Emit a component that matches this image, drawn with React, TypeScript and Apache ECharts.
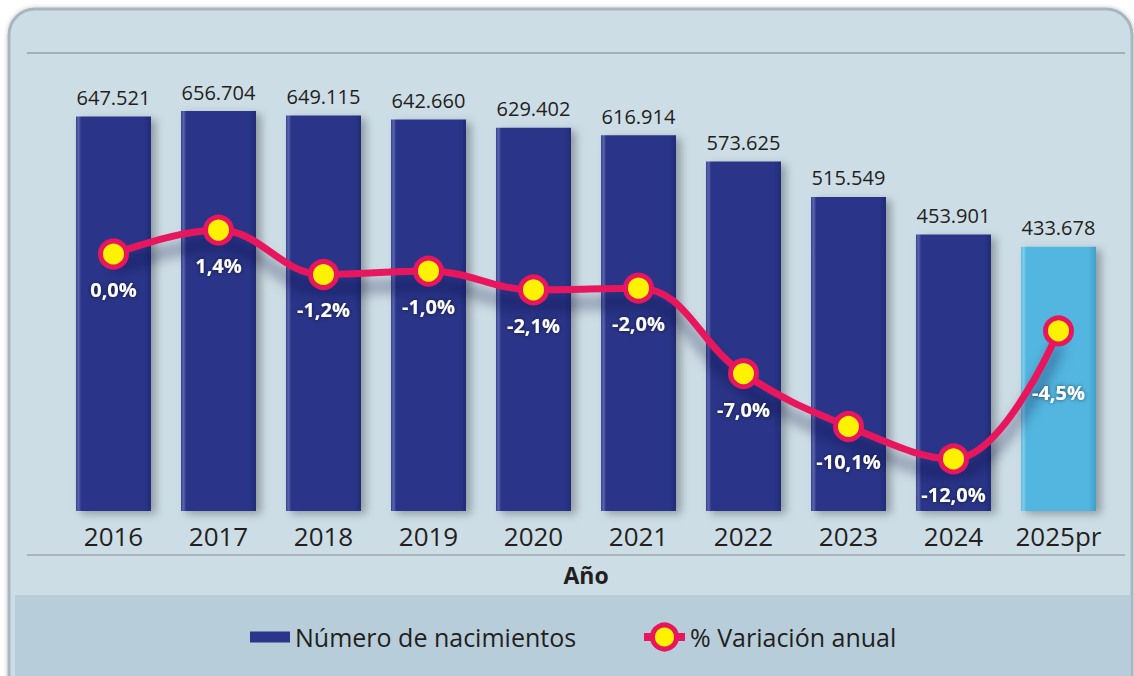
import React, { useEffect, useRef } from "react";
import * as echarts from "echarts";

const categories = ["2016", "2017", "2018", "2019", "2020", "2021", "2022", "2023", "2024", "2025pr"];
const births = [647521, 656704, 649115, 642660, 629402, 616914, 573625, 515549, 453901, 433678];
const variation = [0.0, 1.4, -1.2, -1.0, -2.1, -2.0, -7.0, -10.1, -12.0, -4.5];
const barName = "Número de nacimientos";
const lineName = "% Variación anual";
const axisName = "Año";

const FONT = "'Open Sans', 'Noto Sans', sans-serif";

const fmtThousands = (v: number) => String(v).replace(/\B(?=(\d{3})+(?!\d))/g, ".");
const fmtPct = (v: number) => v.toFixed(1).replace(".", ",") + "%";

const darkBar = new echarts.graphic.LinearGradient(0, 0, 1, 0, [
  { offset: 0, color: "#323e92" },
  { offset: 0.03, color: "#5c66ab" },
  { offset: 0.07, color: "#2a3689" },
  { offset: 0.9, color: "#2a3689" },
  { offset: 1, color: "#222c78" },
]);
const lightBar = new echarts.graphic.LinearGradient(0, 0, 1, 0, [
  { offset: 0, color: "#5ab9e2" },
  { offset: 0.03, color: "#82cdea" },
  { offset: 0.07, color: "#53b6e0" },
  { offset: 0.9, color: "#53b6e0" },
  { offset: 1, color: "#3f9fc8" },
]);

export default function App() {
  const ref = useRef<HTMLDivElement>(null);
  useEffect(() => {
    if (!ref.current) return;
    const chart = echarts.init(ref.current, null, { renderer: "svg" });
    const option: any = {
      animation: false,
      backgroundColor: "#ffffff",
      textStyle: { fontFamily: FONT },
      graphic: [
        {
          type: "rect",
          z: -10,
          silent: true,
          shape: { x: 9, y: 9, width: 1123, height: 700, r: 26 },
          style: {
            fill: "#cddde6",
            stroke: "#a7b6bf",
            lineWidth: 3,
            shadowColor: "rgba(0,0,0,0.25)",
            shadowBlur: 4,
          },
        },
        {
          type: "rect",
          z: -9,
          silent: true,
          shape: { x: 15, y: 595, width: 1116, height: 90 },
          style: { fill: "#b8cdda" },
        },
        {
          type: "line",
          z: -8,
          silent: true,
          shape: { x1: 27, y1: 53, x2: 1125, y2: 53 },
          style: { stroke: "#a2b1ba", lineWidth: 2 },
        },
        {
          type: "line",
          z: -8,
          silent: true,
          shape: { x1: 27, y1: 555, x2: 1125, y2: 555 },
          style: { stroke: "#a9b4bb", lineWidth: 2 },
        },
      ],
      grid: { left: 61, right: 23, top: 52, height: 459, containLabel: false },
      legend: [
        {
          data: [barName],
          left: 250,
          top: 622,
          icon: "rect",
          itemWidth: 40,
          itemHeight: 11,
          itemGap: 6,
          padding: 0,
          textStyle: { fontSize: 25, color: "#231f20", fontFamily: FONT, lineHeight: 30 },
        },
        {
          data: [
            {
              name: lineName,
              itemStyle: { color: "#fff200", borderColor: "#e8175d", borderWidth: 5 },
              lineStyle: { color: "#e8175d", width: 8 },
            },
          ],
          left: 640,
          top: 622,
          itemWidth: 41,
          itemHeight: 30,
          itemGap: 6,
          padding: 0,
          textStyle: { fontSize: 25, color: "#231f20", fontFamily: FONT, lineHeight: 30 },
        },
      ],
      xAxis: {
        type: "category",
        data: categories,
        axisLine: { show: false },
        axisTick: { show: false },
        axisLabel: { interval: 0, fontSize: 26, color: "#231f20", margin: 12, fontFamily: FONT },
        name: axisName,
        nameLocation: "middle",
        nameGap: 52,
        nameTextStyle: { fontSize: 23, fontWeight: "bold", color: "#231f20", fontFamily: FONT },
      },
      yAxis: [
        { type: "value", min: 0, max: 753568, show: false, splitLine: { show: false } },
        { type: "value", min: -15.05, max: 11.83, show: false, splitLine: { show: false } },
      ],
      series: [
        {
          name: barName,
          type: "bar",
          barWidth: 75,
          data: births.map((v, i) => ({
            value: v,
            itemStyle: { color: i === births.length - 1 ? lightBar : darkBar },
          })),
          itemStyle: {
            color: "#2a3689",
            shadowColor: "rgba(0,0,0,0.3)",
            shadowBlur: 8,
            shadowOffsetX: 5,
            shadowOffsetY: 3,
          },
          label: {
            show: true,
            position: "top",
            distance: 9,
            fontSize: 20,
            color: "#231f20",
            fontFamily: FONT,
            formatter: (p: any) => fmtThousands(p.value),
          },
        },
        {
          name: lineName,
          type: "line",
          yAxisIndex: 1,
          smooth: 0.4,
          symbol: "circle",
          symbolSize: 26,
          z: 5,
          data: variation.map((v, i) => ({
            value: v,
            label: i === variation.length - 1 ? { distance: 36 } : undefined,
          })),
          lineStyle: {
            color: "#e8175d",
            width: 7,
            shadowColor: "rgba(15,15,45,0.55)",
            shadowBlur: 14,
            shadowOffsetY: 14,
          },
          itemStyle: { color: "#fff200", borderColor: "#e8175d", borderWidth: 5 },
          label: {
            show: true,
            position: "bottom",
            distance: 10,
            fontSize: 20,
            fontWeight: "bold",
            color: "#ffffff",
            fontFamily: FONT,
            textShadowColor: "rgba(0,0,0,0.6)",
            textShadowBlur: 4,
            formatter: (p: any) => fmtPct(p.value),
          },
        },
      ],
    };
    chart.setOption(option);
    return () => chart.dispose();
  }, []);
  return (
    <div
      ref={ref}
      style={{ position: "absolute", left: 0, top: 0, width: 1134, height: 676 }}
    />
  );
}
